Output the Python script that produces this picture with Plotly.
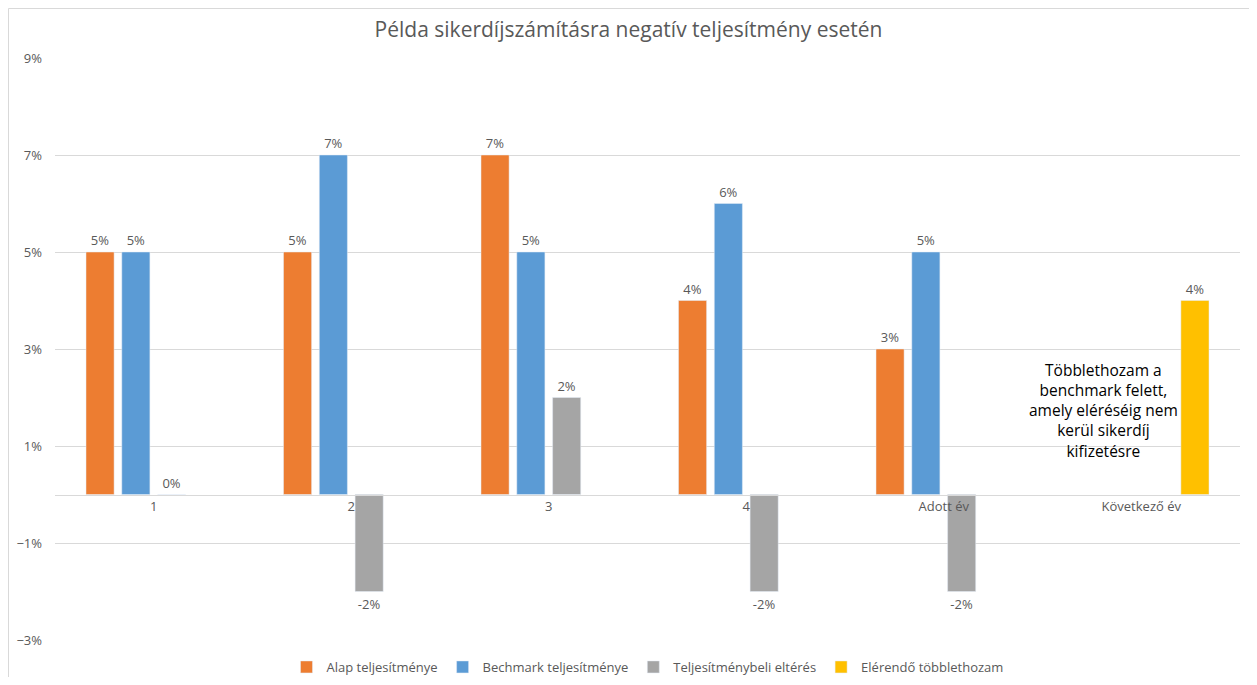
import plotly.graph_objects as go

categories = ["1", "2", "3", "4", "Adott év", "Következő év"]
alap = [0.05, 0.05, 0.07, 0.04, 0.03, None]
bench = [0.05, 0.07, 0.05, 0.06, 0.05, None]
elteres = [0.0, -0.02, 0.02, -0.02, -0.02, None]
elerendo = [None, None, None, None, None, 0.04]
note_lines = ["Többlethozam a", "benchmark felett,", "amely eléréséig nem",
              "kerül sikerdíj", "kifizetésre"]

series = [
    ("Alap teljesítménye", alap, "#ED7D31"),
    ("Bechmark teljesítménye", bench, "#5B9BD5"),
    ("Teljesítménybeli eltérés", elteres, "#A5A5A5"),
    ("Elérendő többlethozam", elerendo, "#FFC000"),
]

FONT = "'Open Sans', sans-serif"
GRAY = "#595959"
FS = 13

fig = go.Figure()
for name, vals, col in series:
    fig.add_trace(go.Bar(
        x=categories, y=vals, name=name, marker_color=col,
        texttemplate="%{y:.0%}", textposition="outside",
        textfont=dict(size=FS, color=GRAY, family=FONT),
        cliponaxis=False,
    ))

# figure is drawn at page offset (8, 8)
W, H = 1241, 669
L, T = 47, 50
R = W - 1232
B = H - 632
pw, ph = W - L - R, H - T - B

fig.update_layout(
    width=W, height=H,
    margin=dict(l=L, r=R, t=T, b=B, autoexpand=False),
    plot_bgcolor="white", paper_bgcolor="white",
    barmode="group", bargap=0.275, bargroupgap=0.215,
    font=dict(family=FONT, color=GRAY, size=FS),
    title=dict(text="Példa sikerdíjszámításra negatív teljesítmény esetén",
               x=0.5, xanchor="center", y=1 - 22 / H, yanchor="middle",
               font=dict(size=21, color=GRAY, family=FONT)),
    legend=dict(orientation="h", x=0.5, xanchor="center",
                yref="container", y=(H - 659) / H,
                yanchor="middle", font=dict(size=FS, color=GRAY, family=FONT),
                itemwidth=30, traceorder="normal"),
    xaxis=dict(type="category", anchor="free", position=0.25, showgrid=False,
               showline=True, linecolor="#D9D9D9", linewidth=1, automargin=False,
               ticks="", tickfont=dict(size=FS, color=GRAY, family=FONT)),
    yaxis=dict(range=[-0.03, 0.09], tick0=-0.03, dtick=0.02, tickformat=".0%",
               showgrid=True, gridcolor="#D9D9D9", gridwidth=1, automargin=False,
               zeroline=False, showline=False, ticks="",
               ticklabelstandoff=12,
               tickfont=dict(size=FS, color=GRAY, family=FONT)),
    annotations=[dict(
        x=4.81, y=0.0174, xref="x", yref="y",
        text="<br>".join(note_lines),
        showarrow=False, align="center",
        font=dict(size=15.5, color="black", family=FONT),
    )],
    shapes=[dict(type="rect", xref="paper", yref="paper",
                 x0=(0.5 - L) / pw, x1=(W + 10 - L) / pw,
                 y0=-(H + 10 - (H - B)) / ph, y1=((H - B) - 0.5) / ph,
                 line=dict(color="#D9D9D9", width=1), fillcolor="rgba(0,0,0,0)",
                 layer="below")],
)

fig.write_html("out.html")
